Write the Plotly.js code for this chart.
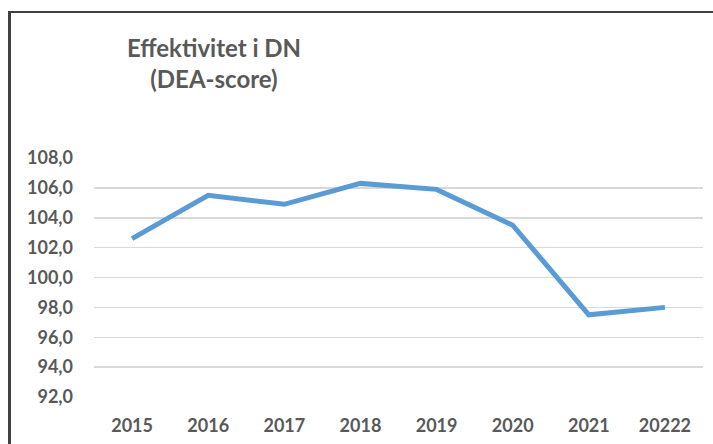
<!DOCTYPE html>
<html>
<head>
<meta charset="utf-8">
<script src="https://cdn.plot.ly/plotly-3.0.1.min.js"></script>
<style>
html,body{margin:0;padding:0;background:#fff;}
#wrap{position:relative;width:713px;height:444px;overflow:hidden;}
#chart{position:absolute;left:0;top:0;width:713px;height:444px;}
#frame{position:absolute;left:8px;top:11px;width:720px;height:460px;border-left:3px solid #404040;border-top:2px solid #404040;pointer-events:none;}
</style>
</head>
<body>
<div id="wrap">
<div id="chart"></div>
<div id="frame"></div>
</div>
<script>
const years = ["2015","2016","2017","2018","2019","2020","2021","20222"];
const deaScore = [102.6, 105.5, 104.9, 106.3, 105.9, 103.5, 97.5, 98.0];
const yTicks = [92,94,96,98,100,102,104,106,108];

const font = "Lato, 'Open Sans', sans-serif";
Plotly.newPlot('chart', [{
  x: years,
  y: deaScore,
  type: 'scatter',
  mode: 'lines',
  line: {color: '#5B9BD5', width: 5},
  hoverinfo: 'skip'
}], {
  width: 713, height: 444,
  margin: {l: 94, r: 10, t: 158, b: 47},
  paper_bgcolor: '#fff', plot_bgcolor: '#fff',
  separators: ', ',
  showlegend: false,
  title: {
    text: 'Effektivitet i DN<br>(DEA-score)',
    x: 214/713, xref: 'container', xanchor: 'center',
    y: 1 - 57/444, yref: 'container', yanchor: 'middle',
    font: {family: font, size: 24, color: '#595959', weight: 'bold'}
  },
  xaxis: {
    type: 'category',
    range: [-0.5, 7.5],
    showgrid: false, zeroline: false,
    showline: false, ticks: '',
    tickfont: {family: font, size: 18, color: '#595959', weight: 'bold'},
    ticklabelstandoff: 16
  },
  yaxis: {
    range: [92, 108],
    tickvals: yTicks,
    tickformat: '.1f',
    showgrid: true, gridcolor: '#D9D9D9', gridwidth: 1.5,
    zeroline: false, showline: false, ticks: '',
    tickfont: {family: font, size: 18, color: '#595959', weight: 'bold'},
    ticklabelstandoff: 20
  }
}, {staticPlot: true});
</script>
</body>
</html>
